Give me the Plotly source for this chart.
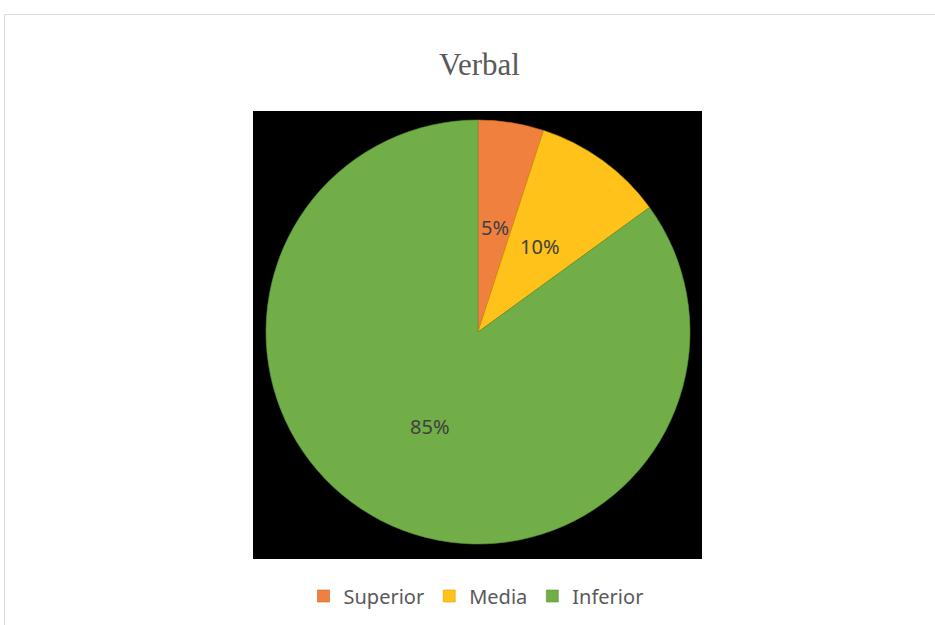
import math
import plotly.graph_objects as go

categories = ["Superior", "Media", "Inferior"]
values = [5, 10, 85]
colors = ["#F0803D", "#FFC21A", "#71AE47"]
line_colors = ["#C8652A", "#D9A000", "#5E9438"]

W, H = 935, 625
# pie placement (pixels)
cx, cy, R = 478, 332, 212


def px_x(x):
    return x / W


def px_y(y):
    return 1 - y / H


fig = go.Figure()
fig.add_trace(go.Pie(
    labels=categories,
    values=values,
    sort=False,
    direction="clockwise",
    rotation=0,
    textinfo="none",
    hoverinfo="label+percent",
    marker=dict(colors=colors, line=dict(color=line_colors, width=0.6)),
    domain=dict(x=[px_x(cx - R), px_x(cx + R)], y=[px_y(cy + R), px_y(cy - R)]),
    showlegend=True,
))

# data labels at half radius along each slice bisector (computed from values)
total = sum(values)
cum = 0
annotations = []
for v in values:
    mid = (cum + v / 2) / total * 2 * math.pi
    cum += v
    lx = cx + 0.5 * R * math.sin(mid)
    ly = cy - 0.5 * R * math.cos(mid)
    annotations.append(dict(
        x=px_x(lx), y=px_y(ly), xref="paper", yref="paper",
        text=f"{v / total * 100:.0f}%", showarrow=False,
        font=dict(family="Noto Sans", size=20, color="#404040"),
        xanchor="center", yanchor="middle",
    ))

annotations.append(dict(
    x=px_x(479.5), y=px_y(64), xref="paper", yref="paper",
    text="Verbal", showarrow=False,
    font=dict(family="Liberation Serif", size=31, color="#595959"),
    xanchor="center", yanchor="middle",
))

shapes = [
    dict(type="rect", xref="paper", yref="paper", layer="below",
         x0=px_x(253), x1=px_x(702), y0=px_y(559), y1=px_y(111),
         fillcolor="black", line=dict(width=0)),
    dict(type="line", xref="paper", yref="paper",
         x0=px_x(4.5), x1=1.02, y0=px_y(14.5), y1=px_y(14.5),
         line=dict(color="#D9D9D9", width=1)),
    dict(type="line", xref="paper", yref="paper",
         x0=px_x(4.5), x1=px_x(4.5), y0=-0.02, y1=px_y(14.5),
         line=dict(color="#D9D9D9", width=1)),
]

fig.update_layout(
    width=W, height=H,
    margin=dict(l=0, r=0, t=0, b=0),
    paper_bgcolor="white",
    plot_bgcolor="white",
    annotations=annotations,
    shapes=shapes,
    legend=dict(
        orientation="h", x=px_x(476), xanchor="center",
        y=px_y(596), yanchor="middle",
        font=dict(family="Noto Sans", size=20, color="#595959"),
        itemwidth=30, tracegroupgap=0,
        bgcolor="rgba(0,0,0,0)",
    ),
)

fig.write_html("out.html", config={"displayModeBar": False},
               post_script="document.body.style.margin='0';")
